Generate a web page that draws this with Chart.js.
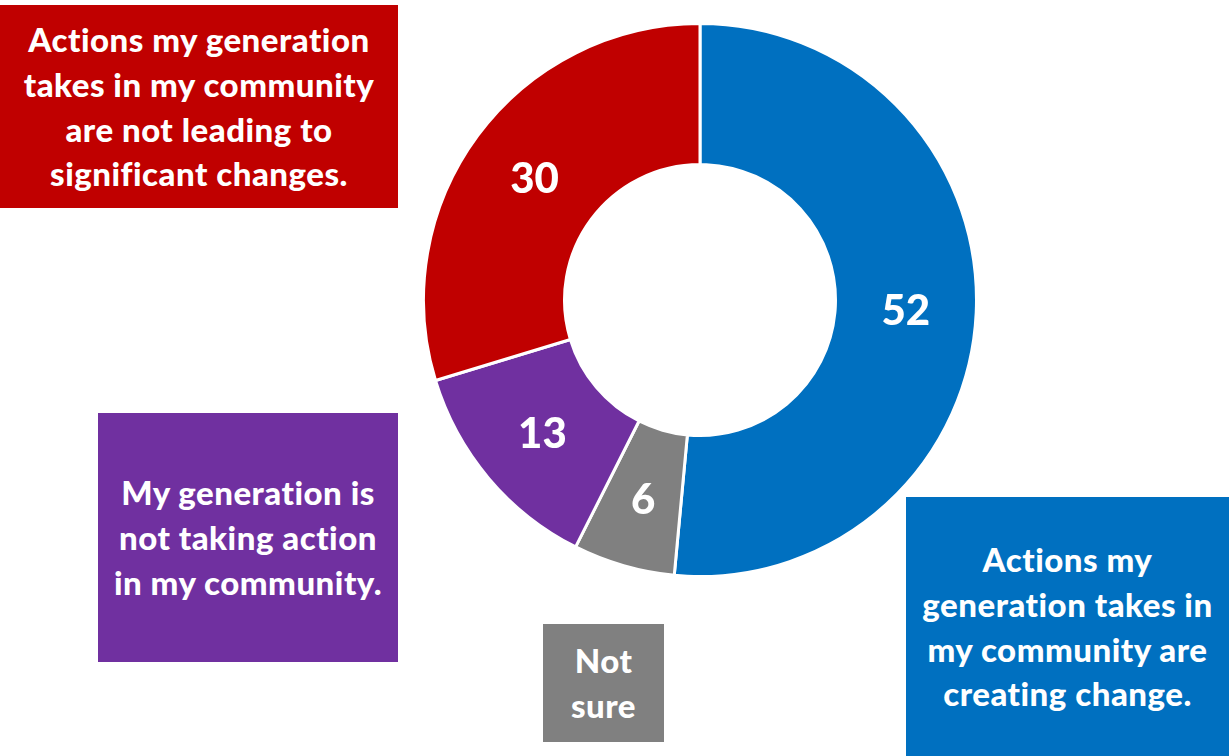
<!DOCTYPE html>
<html lang="en">
<head>
	<meta charset="UTF-8">
	<title>Generation actions</title>
	<script src="https://cdn.jsdelivr.net/npm/chart.js@4.4.0/dist/chart.umd.min.js"></script>
	<style>
		html, body { margin: 0; padding: 0; background: #fff; }
		#page { position: relative; width: 1229px; height: 756px; overflow: hidden; font-family: Lato, "Open Sans", sans-serif; }
		#chart-box { position: absolute; left: 422px; top: 22px; width: 556px; height: 556px; }
		.note {
			position: absolute; color: #fff; font-weight: 900; font-size: 33px; line-height: 44.7px; letter-spacing: 0.5px;
			text-align: center; display: flex; align-items: center; justify-content: center;
		}
	</style>
</head>
<body>
	<div id="page">
		<div id="chart-box"><canvas id="myChart"></canvas></div>

		<div class="note" style="left:0;top:5px;width:398px;height:203px;background:#C00000">
			<div>Actions my generation<br>takes in my community<br>are not leading to<br>significant changes.</div>
		</div>
		<div class="note" style="left:98px;top:413px;width:300px;height:249px;background:#7030A0">
			<div>My generation is<br>not taking action<br>in my community.</div>
		</div>
		<div class="note" style="left:543px;top:624px;width:121px;height:118px;background:#808080">
			<div>Not<br>sure</div>
		</div>
		<div class="note" style="left:906px;top:497px;width:323px;height:259px;background:#0070C0">
			<div>Actions my<br>generation takes in<br>my community are<br>creating change.</div>
		</div>
	</div>

	<script>
		const labels = ['Creating change', 'Not sure', 'Not taking action', 'Not leading to significant changes']
		const values = [52, 6, 13, 30]
		const colors = ['#0070C0', '#808080', '#7030A0', '#C00000']

		// draws the numbers in the middle of each ring segment
		const sliceLabels = {
			id: 'sliceLabels',
			afterDatasetsDraw(chart) {
				const ctx = chart.ctx
				const meta = chart.getDatasetMeta(0)
				ctx.save()
				ctx.fillStyle = '#fff'
				ctx.font = '900 42px Lato, sans-serif'
				ctx.textAlign = 'center'
				ctx.textBaseline = 'middle'
				meta.data.forEach(function(arc, i) {
					const p = arc.tooltipPosition()
					ctx.fillText(values[i], p.x, p.y + 2)
				})
				ctx.restore()
			}
		}

		var ctx = document.getElementById('myChart').getContext('2d')

		var chart = new Chart(ctx, {
			type: 'doughnut',
			data: {
				labels: labels,
				datasets: [{
					data: values,
					backgroundColor: colors,
					borderColor: '#fff',
					borderWidth: 3
				}]
			},
			options: {
				responsive: true,
				maintainAspectRatio: false,
				animation: false,
				cutout: '49%',
				layout: { padding: 0 },
				plugins: {
					legend: { display: false },
					tooltip: { enabled: false }
				}
			},
			plugins: [sliceLabels]
		})
	</script>
</body>
</html>
